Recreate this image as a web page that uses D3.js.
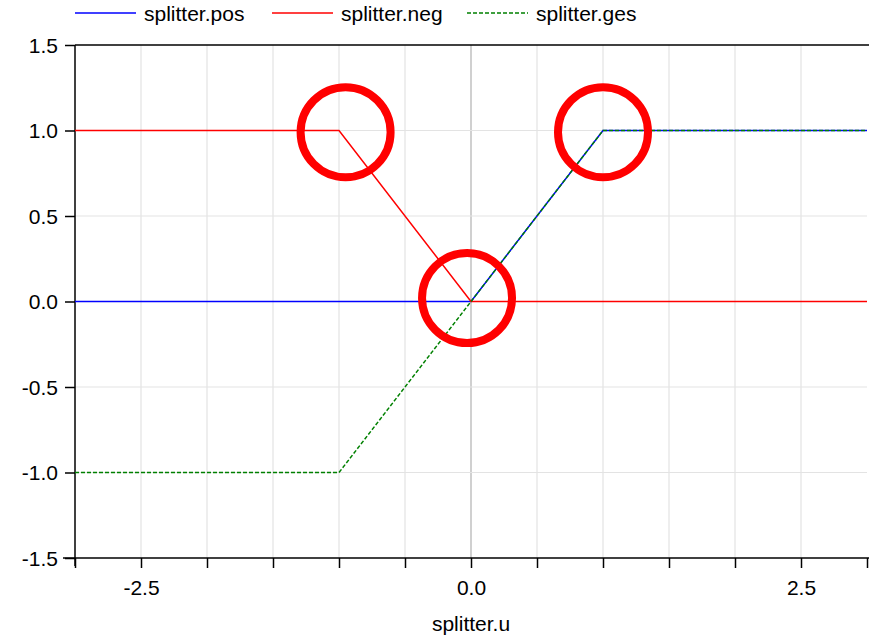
<!DOCTYPE html>
<html>
<head>
<meta charset="utf-8">
<script src="https://cdnjs.cloudflare.com/ajax/libs/d3/7.8.5/d3.min.js"></script>
<style>
  body { margin: 0; background: #fff; }
  svg { font-family: "Liberation Sans", Arial, sans-serif; }
</style>
</head>
<body>
<script>
// breakpoints of the three signals (splitter.u, value)
var posData = [[-3, 0], [0, 0], [1, 1], [3, 1]];
var negData = [[-3, 1], [-1, 1], [0, 0], [3, 0]];
var gesData = [[-3, -1], [-1, -1], [1, 1], [3, 1]];
var seriesNames = ['splitter.pos', 'splitter.neg', 'splitter.ges'];
var xTicks = [-3, -2.5, -2, -1.5, -1, -0.5, 0, 0.5, 1, 1.5, 2, 2.5, 3];
var xLabels = [-2.5, 0, 2.5];
var yTicks = [-1.5, -1, -0.5, 0, 0.5, 1, 1.5];
// highlight circles (centre in data units)
var marks = [[-0.95, 0.99], [1.0, 0.99], [-0.03, 0.02]];

var width = 873,
    height = 636,
    margin = {left: 75, right: 6, top: 45, bottom: 78},
    fontSize = '21px';

var x = d3.scaleLinear().domain([-3, 3]).range([margin.left, width - margin.right]),
    y = d3.scaleLinear().domain([-1.5, 1.5]).range([height - margin.bottom, margin.top]);

var fmt = d => d.toFixed(1);

var svg = d3.select('body').append('svg')
    .attr('width', width)
    .attr('height', height);

// grid
svg.append('g').selectAll('line.vg')
    .data(xTicks.filter(d => d > -3 && d < 3))
    .enter().append('line')
    .attr('x1', d => x(d)).attr('x2', d => x(d))
    .attr('y1', y(1.5)).attr('y2', y(-1.5))
    .attr('stroke', d => d === 0 ? '#c0c0c0' : '#e3e3e3')
    .attr('stroke-width', d => d === 0 ? 1.5 : 1.2);

svg.append('g').selectAll('line.hg')
    .data(yTicks.filter(d => d > -1.5 && d < 1.5))
    .enter().append('line')
    .attr('x1', x(-3)).attr('x2', x(3))
    .attr('y1', d => y(d)).attr('y2', d => y(d))
    .attr('stroke', '#e3e3e3')
    .attr('stroke-width', 1.2);

// top border
svg.append('line')
    .attr('x1', x(-3)).attr('x2', x(3) + 2)
    .attr('y1', y(1.5)).attr('y2', y(1.5))
    .attr('stroke', '#000').attr('stroke-width', 1.3);

// axes
var axisX = d3.axisBottom(x)
    .tickValues(xTicks)
    .tickSize(10)
    .tickFormat(d => xLabels.indexOf(d) >= 0 ? fmt(d) : '');
var axisY = d3.axisLeft(y)
    .tickValues(yTicks)
    .tickSize(10)
    .tickFormat(fmt);

var gx = svg.append('g')
    .attr('transform', 'translate(0,' + y(-1.5) + ')')
    .call(axisX);
gx.select('.domain').remove();
gx.append('line')
    .attr('x1', x(-3) - 12).attr('x2', x(3) + 2)
    .attr('stroke', '#000').attr('stroke-width', 1.3);
gx.selectAll('.tick line').attr('stroke-width', 1.5);
gx.selectAll('text')
    .attr('y', 37)
    .attr('dy', null)
    .style('font-size', fontSize)
    .style('font-family', '"Liberation Sans", Arial, sans-serif')
    .attr('fill', '#000');

var gy = svg.append('g')
    .attr('transform', 'translate(' + x(-3) + ',0)')
    .call(axisY);
gy.select('.domain').remove();
gy.append('line')
    .attr('y1', y(1.5)).attr('y2', y(-1.5) + 8)
    .attr('stroke', '#000').attr('stroke-width', 1.5);
gy.selectAll('.tick line').attr('stroke-width', 1.5);
gy.selectAll('text')
    .attr('x', -17)
    .attr('dy', '0.35em')
    .style('font-size', fontSize)
    .style('font-family', '"Liberation Sans", Arial, sans-serif')
    .attr('fill', '#000');

svg.append('text')
    .attr('x', x(0))
    .attr('y', 631)
    .attr('text-anchor', 'middle')
    .style('font-size', fontSize)
    .text('splitter.u');

// series
var line = d3.line().x(d => x(d[0])).y(d => y(d[1]));
var series = [
    {name: seriesNames[0], data: posData, color: '#0000ff', dash: null},
    {name: seriesNames[1], data: negData, color: '#ff0000', dash: null},
    {name: seriesNames[2], data: gesData, color: '#008000', dash: '4,2'}
];

svg.append('g').selectAll('path')
    .data(series)
    .enter().append('path')
    .attr('d', d => line(d.data))
    .attr('fill', 'none')
    .attr('stroke', d => d.color)
    .attr('stroke-width', 1.5)
    .attr('stroke-dasharray', d => d.dash);

// highlight circles
svg.append('g').selectAll('circle')
    .data(marks)
    .enter().append('circle')
    .attr('cx', d => x(d[0]))
    .attr('cy', d => y(d[1]))
    .attr('r', 45)
    .attr('fill', 'none')
    .attr('stroke', '#ff0000')
    .attr('stroke-width', 8);

// legend
var legendX = [75, 272, 467];
var legend = svg.append('g').selectAll('g')
    .data(series)
    .enter().append('g')
    .attr('transform', (d, i) => 'translate(' + legendX[i] + ',13)');
legend.append('line')
    .attr('x1', 0).attr('x2', 61)
    .attr('stroke', d => d.color)
    .attr('stroke-width', 1.5)
    .attr('stroke-dasharray', d => d.dash);
legend.append('text')
    .attr('x', 69)
    .attr('y', 8)
    .style('font-size', fontSize)
    .text(d => d.name);
</script>
</body>
</html>
